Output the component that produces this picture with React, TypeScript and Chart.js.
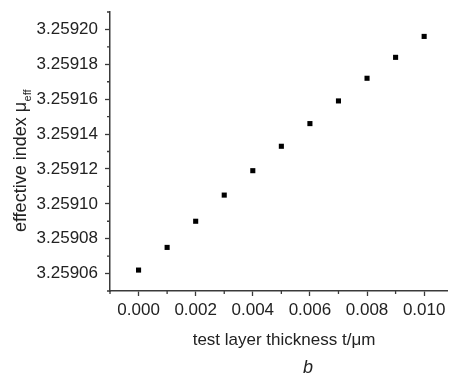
import React, { useEffect, useRef } from "react";
import { Chart, registerables } from "chart.js";

Chart.register(...registerables);

const thickness = [0, 0.001, 0.002, 0.003, 0.004, 0.005, 0.006, 0.007, 0.008, 0.009, 0.01];
const effIndex = [3.259062, 3.259075, 3.25909, 3.259105, 3.259119, 3.259133, 3.259146, 3.259159, 3.259172, 3.259184, 3.259196];

const xMajorTicks = [0, 0.002, 0.004, 0.006, 0.008, 0.01];
const xMinorTicks = [-0.001, 0.001, 0.003, 0.005, 0.007, 0.009];
const yMajorTicks = [3.25906, 3.25908, 3.2591, 3.25912, 3.25914, 3.25916, 3.25918, 3.2592];
const yMinorTicks = [3.25905, 3.25907, 3.25909, 3.25911, 3.25913, 3.25915, 3.25917, 3.25919, 3.25921];

const xTitle = "test layer thickness t/\u03bcm";
const yTitleMain = "effective index \u03bc";
const yTitleSub = "eff";
const panelLabel = "b";

const FONT = "'Liberation Sans', Arial, sans-serif";
const AXIS = "#3a3a3a";

export default function App() {
  const ref = useRef<HTMLCanvasElement | null>(null);
  useEffect(() => {
    if (!ref.current) return;
    const decor = {
      id: "decor",
      afterDraw(chart: any) {
        const ctx = chart.ctx;
        const xs = chart.scales.x;
        const ys = chart.scales.y;
        const area = chart.chartArea;
        ctx.save();
        ctx.strokeStyle = AXIS;
        ctx.lineWidth = 1.3;
        ctx.beginPath();
        for (const v of xMinorTicks) {
          const px = xs.getPixelForValue(v);
          if (px < area.left - 0.5) continue;
          ctx.moveTo(px, area.bottom);
          ctx.lineTo(px, area.bottom + 3);
        }
        for (const v of yMinorTicks) {
          const py = ys.getPixelForValue(v);
          if (py > area.bottom + 0.5 || py < area.top - 0.5) continue;
          ctx.moveTo(area.left, py);
          ctx.lineTo(area.left - 3, py);
        }
        ctx.stroke();

        ctx.fillStyle = "#222";
        // x title
        ctx.font = `17px ${FONT}`;
        ctx.textAlign = "center";
        ctx.textBaseline = "alphabetic";
        ctx.fillText(xTitle, 284, 345);
        // panel label
        ctx.font = `italic 18px ${FONT}`;
        ctx.fillText(panelLabel, 308, 373);
        // y title with subscript
        ctx.translate(26, 161);
        ctx.rotate(-Math.PI / 2);
        ctx.font = `18px ${FONT}`;
        const w1 = ctx.measureText(yTitleMain).width;
        ctx.font = `11px ${FONT}`;
        const w2 = ctx.measureText(yTitleSub).width;
        const start = -(w1 + w2) / 2;
        ctx.textAlign = "left";
        ctx.font = `18px ${FONT}`;
        ctx.fillText(yTitleMain, start, 0);
        ctx.font = `11px ${FONT}`;
        ctx.fillText(yTitleSub, start + w1 + 0.5, 5);
        ctx.restore();
      },
    };
    const chart = new Chart(ref.current, {
      type: "scatter",
      data: {
        datasets: [
          {
            data: thickness.map((t, i) => ({ x: t, y: effIndex[i] })),
            pointStyle: "rect",
            pointRadius: 3.6,
            backgroundColor: "#000",
            borderColor: "#000",
            borderWidth: 0,
          },
        ],
      },
      options: {
        animation: false,
        responsive: false,
        devicePixelRatio: 1,
        layout: { padding: { top: 12, right: 0, left: 0, bottom: 0 } },
        plugins: { legend: { display: false }, tooltip: { enabled: false } },
        scales: {
          x: {
            type: "linear",
            min: -0.001,
            max: 0.0108,
            afterBuildTicks: (s: any) => {
              s.ticks = xMajorTicks.map((v) => ({ value: v }));
            },
            afterFit: (s: any) => {
              s.height = 85;
              s.paddingLeft = 0;
              s.paddingRight = 0;
            },
            ticks: {
              color: "#222",
              font: { family: FONT, size: 17 },
              padding: 4,
              maxRotation: 0,
              autoSkip: false,
              callback: (v: any) => Number(v).toFixed(3),
            },
            grid: { display: true, drawOnChartArea: false, drawTicks: true, tickLength: 5, tickColor: AXIS, tickWidth: 1.3 },
            border: { display: true, color: AXIS, width: 1.5 },
          },
          y: {
            type: "linear",
            min: 3.25905,
            max: 3.25921,
            afterBuildTicks: (s: any) => {
              s.ticks = yMajorTicks.map((v) => ({ value: v }));
            },
            afterFit: (s: any) => {
              s.width = 110;
              s.paddingTop = 0;
              s.paddingBottom = 0;
            },
            ticks: {
              color: "#222",
              font: { family: FONT, size: 17 },
              padding: 7,
              autoSkip: false,
              callback: (v: any) => Number(v).toFixed(5),
            },
            grid: { display: true, drawOnChartArea: false, drawTicks: true, tickLength: 5, tickColor: AXIS, tickWidth: 1.3 },
            border: { display: true, color: AXIS, width: 1.5 },
          },
        },
      },
      plugins: [decor],
    });
    return () => chart.destroy();
  }, []);
  return (
    <div style={{ position: "fixed", left: 0, top: 0, width: 451, height: 376, background: "#fff" }}>
      <canvas ref={ref} width={451} height={376} style={{ display: "block" }} />
    </div>
  );
}
